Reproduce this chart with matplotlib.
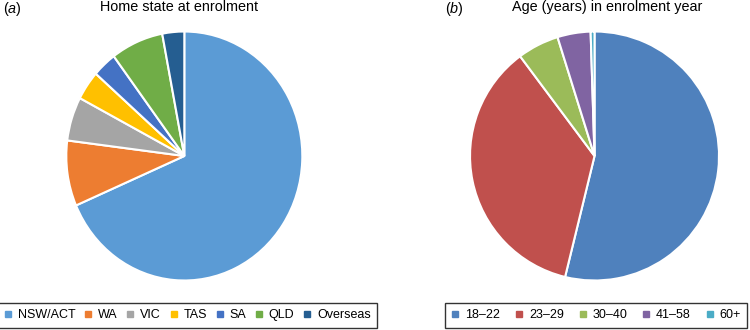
import matplotlib
matplotlib.use('Agg')
import matplotlib.pyplot as plt
from matplotlib.lines import Line2D

plt.rcParams['font.family'] = ['Liberation Sans', 'DejaVu Sans']
plt.rcParams['font.size'] = 10
plt.rcParams['mathtext.fontset'] = 'custom'
plt.rcParams['mathtext.rm'] = 'Liberation Sans'
plt.rcParams['mathtext.it'] = 'Liberation Sans:italic'

# ---- data (percent) ----
state_labels = ['NSW/ACT', 'WA', 'VIC', 'TAS', 'SA', 'QLD', 'Overseas']
state_values = [68.5, 8.5, 5.7, 3.8, 3.3, 7.2, 3.0]
state_colors = ['#5B9BD5', '#ED7D31', '#A5A5A5', '#FFC000', '#4472C4', '#70AD47', '#255E91']

age_labels = ['18\u201322', '23\u201329', '30\u201340', '41\u201358', '60+']
age_values = [53.8, 36.0, 5.4, 4.3, 0.5]
age_colors = ['#4F81BD', '#C0504D', '#9BBB59', '#8064A2', '#4BACC6']

fig = plt.figure(figsize=(7.5, 3.3), dpi=100)


def draw_pie(rect, values, colors):
    ax = fig.add_axes(rect)
    ax.pie(values, colors=colors, startangle=90, counterclock=False,
           wedgeprops=dict(edgecolor='white', linewidth=1.5))
    ax.set_aspect('auto')
    ax.set_xlim(-1, 1)
    ax.set_ylim(-1, 1)
    ax.axis('off')
    return ax


draw_pie([0.0884, 0.150, 0.3147, 0.7545], state_values, state_colors)
draw_pie([0.6267, 0.150, 0.332, 0.7545], age_values, age_colors)

# ---- titles ----
tsize = 10.4
fig.text(0.004, 0.999, '($\\mathit{a}$)', ha='left', va='top', fontsize=tsize)
fig.text(0.239, 0.999, 'Home state at enrolment', ha='center', va='top', fontsize=tsize)
fig.text(0.593, 0.999, '($\\mathit{b}$)', ha='left', va='top', fontsize=tsize)
fig.text(0.809, 0.999, 'Age (years) in enrolment year', ha='center', va='top', fontsize=tsize)


def square_handles(colors):
    return [Line2D([], [], marker='s', linestyle='none', markersize=4.5,
                   markerfacecolor=c, markeredgecolor=c) for c in colors]


leg_kw = dict(loc='center', frameon=True, fancybox=False, edgecolor='black',
              handlelength=0.6, handletextpad=0.5, borderpad=0.5,
              fontsize=9, borderaxespad=0)

la = fig.legend(square_handles(state_colors), state_labels, ncol=7,
                bbox_to_anchor=(0.250, 0.044), columnspacing=0.7, **leg_kw)
la.get_frame().set_linewidth(1.0)
lb = fig.legend(square_handles(age_colors), age_labels, ncol=5,
                bbox_to_anchor=(0.795, 0.044), columnspacing=1.2, **leg_kw)
lb.get_frame().set_linewidth(1.0)

fig.savefig('out.png', dpi=100)
